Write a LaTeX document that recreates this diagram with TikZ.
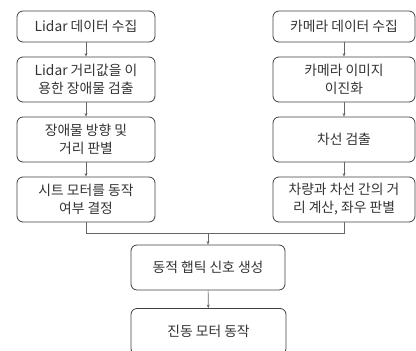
\documentclass[tikz,border=0pt]{standalone}
\usepackage{fontspec}
\setmainfont{Noto Sans CJK KR}
\usetikzlibrary{arrows.meta}
\begin{document}
\begin{tikzpicture}[x=1pt,y=-1pt,
  box/.style={draw=black!75, line width=0.8pt, rounded corners=6pt, align=center,
    inner sep=0pt, font=\fontsize{13.8}{18}\selectfont, text=black!80},
  conn/.style={draw=black!60, line width=0.6pt},
  arr/.style={conn, -{Stealth[length=3.5pt,width=3pt]}}]
\useasboundingbox (0,0) rectangle (416,351);
\node[box, minimum width=138pt, minimum height=31pt] (L1) at (86,26.5) {Lidar 데이터 수집};
\node[box, minimum width=138pt, minimum height=45pt] (L2) at (86,79.5) {Lidar 거리값을 이\\용한 장애물 검출};
\node[box, minimum width=138pt, minimum height=45pt] (L3) at (86,139.5) {장애물 방향 및\\거리 판별};
\node[box, minimum width=138pt, minimum height=45pt] (L4) at (86,199.5) {시트 모터를 동작\\여부 결정};
\node[box, minimum width=142pt, minimum height=31pt] (R1) at (344,26.5) {카메라 데이터 수집};
\node[box, minimum width=142pt, minimum height=45pt] (R2) at (344,79.5) {카메라 이미지\\이진화};
\node[box, minimum width=142pt, minimum height=45pt] (R3) at (344,139.5) {차선 검출};
\node[box, minimum width=142pt, minimum height=45pt] (R4) at (344,199.5) {차량과 차선 간의 거\\리 계산, 좌우 판별};
\node[box, minimum width=154pt, minimum height=45pt] (M1) at (208,267.5) {동적 햅틱 신호 생성};
\node[box, minimum width=155pt, minimum height=46pt] (M2) at (208.5,331.5) {진동 모터 동작};
\coordinate (J) at (208,233);
\draw[arr] (L1) -- (L2);
\draw[arr] (L2) -- (L3);
\draw[arr] (L3) -- (L4);
\draw[arr] (R1) -- (R2);
\draw[arr] (R2) -- (R3);
\draw[arr] (R3) -- (R4);
\draw[conn] (L4.south) |- (J);
\draw[conn] (R4.south) |- (J);
\draw[arr] (J) -- (M1);
\draw[arr] (M1) -- (M2);
\end{tikzpicture}
\end{document}
